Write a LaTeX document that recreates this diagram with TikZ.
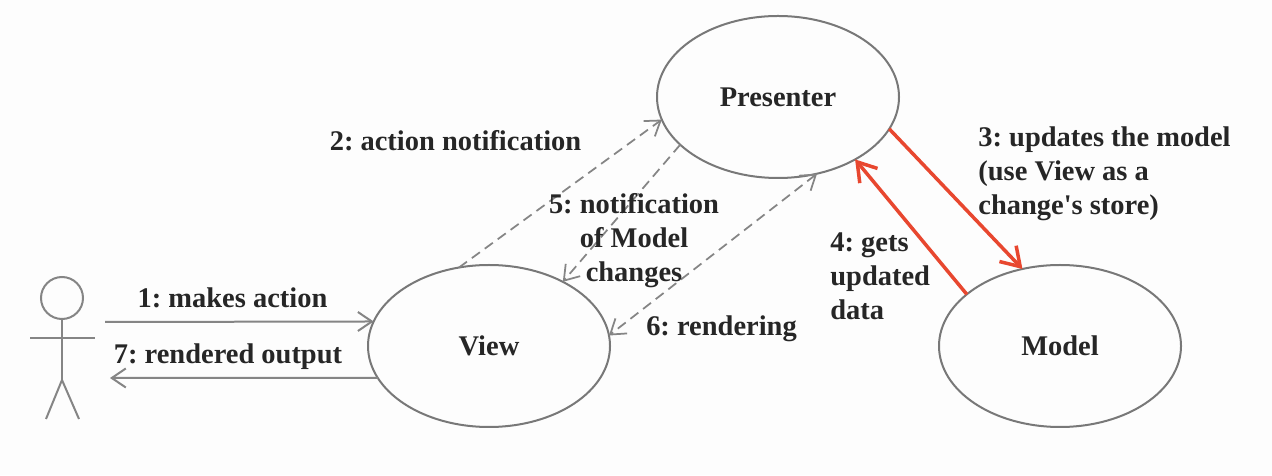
\documentclass[tikz,border=0pt]{standalone}
\usepackage{fontspec}
\setmainfont{Liberation Serif}
\usetikzlibrary{arrows.meta,shapes.geometric}
\definecolor{linegray}{HTML}{858585}
\definecolor{textdark}{HTML}{262626}
\definecolor{updatered}{HTML}{E8472F}
\definecolor{paper}{HTML}{FDFDFD}
\frenchspacing
\tikzset{
	actorline/.style={line width=0.04cm, color=linegray},
	oval/.style={draw=linegray!90!black, line width=0.04cm, ellipse, inner sep=0, outer sep=0, minimum width=4.84cm, minimum height=3.24cm, text=textdark, font=\fontsize{16.2}{19.3}\selectfont\bfseries},
	msg/.style={text=textdark, inner sep=0, font=\fontsize{16.2}{19.3}\selectfont\bfseries},
	call/.style={line width=0.04cm, color=linegray, -{Straight Barb[length=0.28cm, width=0.38cm]}},
	notify/.style={call, line width=0.035cm, dash pattern=on 0.2cm off 0.12cm},
	render/.style={notify, {Straight Barb[length=0.28cm, width=0.38cm]}-{Straight Barb[length=0.28cm, width=0.38cm]}},
	update/.style={line width=0.07cm, color=updatered, -{Straight Barb[length=0.36cm, width=0.46cm]}}
}
\begin{document}
\begin{tikzpicture}
	%%%%% START %%%%%
	\fill[paper] (0, 0) rectangle (25.44, 9.5);
	\useasboundingbox (0, 0) rectangle (25.44, 9.5);
	
	\node[oval] (presenter) at (15.56, 7.56) {Presenter};
	\node[oval] (view) at (9.78, 2.58) {View};
	\node[oval] (model) at (21.2, 2.58) {Model};
	
	% actor
	\node[circle, draw=linegray, line width=0.04cm, inner sep=0, minimum size=0.84cm] (head) at (1.24, 3.54) {};
	\coordinate (hip) at (1.24, 1.9);
	\coordinate (armleft) at (0.6, 2.74);
	\coordinate (armright) at (1.9, 2.74);
	\coordinate (footleft) at (0.92, 1.12);
	\coordinate (footright) at (1.58, 1.12);
	\coordinate (actorin) at (2.2, 1.94);
	\coordinate (actorout) at (2.1, 3.06);
	\draw[actorline] (head.south) -- (hip);
	\draw[actorline] (armleft) -- (armright);
	\draw[actorline] (footleft) -- (hip) -- (footright);
	
	\draw[call] (actorout) -- (view.168.3);
	\draw[call] (view.196.1) -- (actorin);
	
	\draw[notify] (view.111.7) -- (presenter.191.3);
	\draw[notify] (presenter.206) -- (view.41.6);
	\draw[render] (presenter.297) -- (view.5);
	
	\draw[update] (presenter.344.4) -- (model.116.6);
	\draw[update] (model.151.3) -- (presenter.321.6);
	
	\node[msg] (makes) at (4.65, 3.54) {1: makes action};
	\node[msg] (rendered) at (4.56, 2.36) {7: rendered output};
	\node[msg] (action) at (9.11, 6.68) {2: action notification};
	\node[msg, align=center] (changes) at (12.68, 4.68) {5: notification\\of Model\\changes};
	\node[msg] (rendering) at (14.43, 2.92) {6: rendering};
	\node[msg, align=left, anchor=west] (updates) at (19.56, 6.02) {3: updates the model\\(use View as a\\change\textquotesingle s store)};
	\node[msg, align=left, anchor=west] (gets) at (16.6, 3.98) {4: gets\\updated\\data};
	%%%%% END %%%%%
\end{tikzpicture}
\end{document}
